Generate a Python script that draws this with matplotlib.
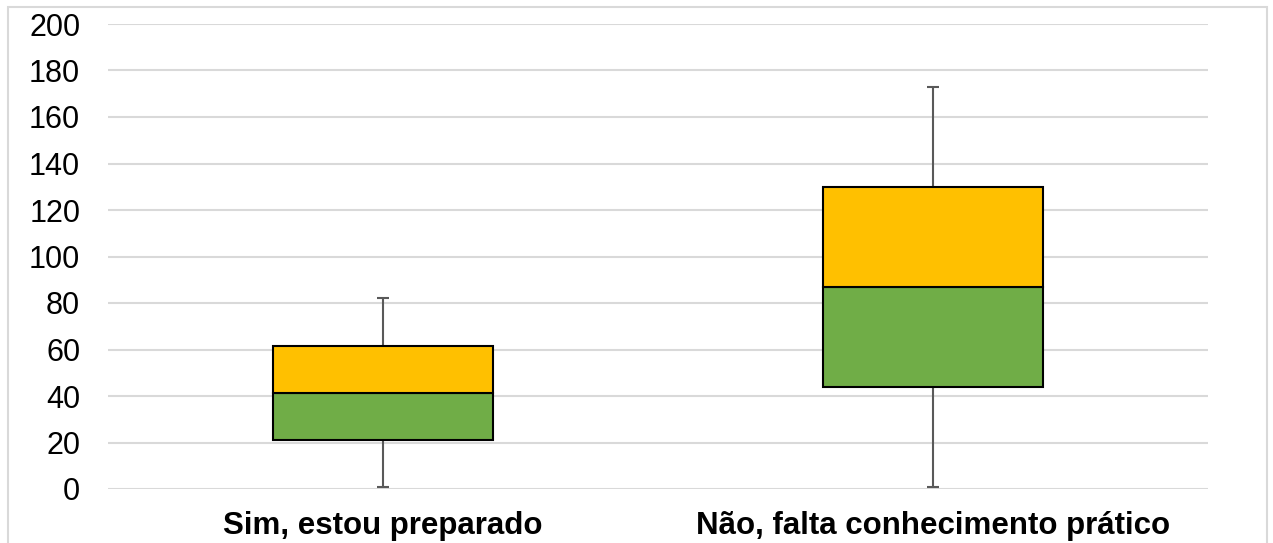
import numpy as np
import matplotlib.pyplot as plt
from matplotlib.patches import Rectangle

categories = ["Sim, estou preparado", "Não, falta conhecimento prático"]
minimo = [1, 1]
q1 = [21, 44]
mediana = [41.5, 87]
q3 = [61.5, 130]
maximo = [82, 173]

plt.rcParams["font.family"] = ["Liberation Sans", "DejaVu Sans"]

fig = plt.figure(figsize=(12.73, 5.43), dpi=100)
ax = fig.add_axes([108 / 1273, 1 - 489 / 543, 1100 / 1273, 465 / 543])

x = np.arange(len(categories))
q1 = np.array(q1)
mediana = np.array(mediana)
q3 = np.array(q3)

# bigodes (min -> Q1 e Q3 -> max)
ax.vlines(x, minimo, q1, color="#595959", linewidth=1.5, zorder=2)
ax.vlines(x, q3, maximo, color="#595959", linewidth=1.5, zorder=2)
ax.plot(x, minimo, linestyle="none", marker="_", markersize=8, markeredgewidth=1.5,
        color="#595959", zorder=2)
ax.plot(x, maximo, linestyle="none", marker="_", markersize=8, markeredgewidth=1.5,
        color="#595959", zorder=2)

# caixa: Q1 -> mediana (verde), mediana -> Q3 (laranja)
ax.bar(x, mediana - q1, bottom=q1, width=0.4, color="#70AD47",
       edgecolor="black", linewidth=1.5, zorder=3)
ax.bar(x, q3 - mediana, bottom=mediana, width=0.4, color="#FFC000",
       edgecolor="black", linewidth=1.5, zorder=3)

ax.set_xlim(-0.5, 1.5)
ax.set_ylim(0, 200)
ax.set_yticks(np.arange(0, 201, 20))
ax.set_xticks(x)
ax.set_xticklabels(categories, fontsize=22.5, fontweight="bold")
ax.tick_params(axis="y", labelsize=22, length=0, pad=20)
ax.tick_params(axis="x", length=0, pad=16)
ax.grid(axis="y", color="#d9d9d9", linewidth=1.5, zorder=0)
ax.set_axisbelow(True)
for s in ax.spines.values():
    s.set_visible(False)

# moldura da área do gráfico
fig.patches.append(Rectangle((8 / 1273, -0.05), 1259 / 1273, 1.05 - 7 / 543,
                             transform=fig.transFigure, fill=False,
                             edgecolor="#d9d9d9", linewidth=1.5))

fig.savefig("out.png", dpi=100)
